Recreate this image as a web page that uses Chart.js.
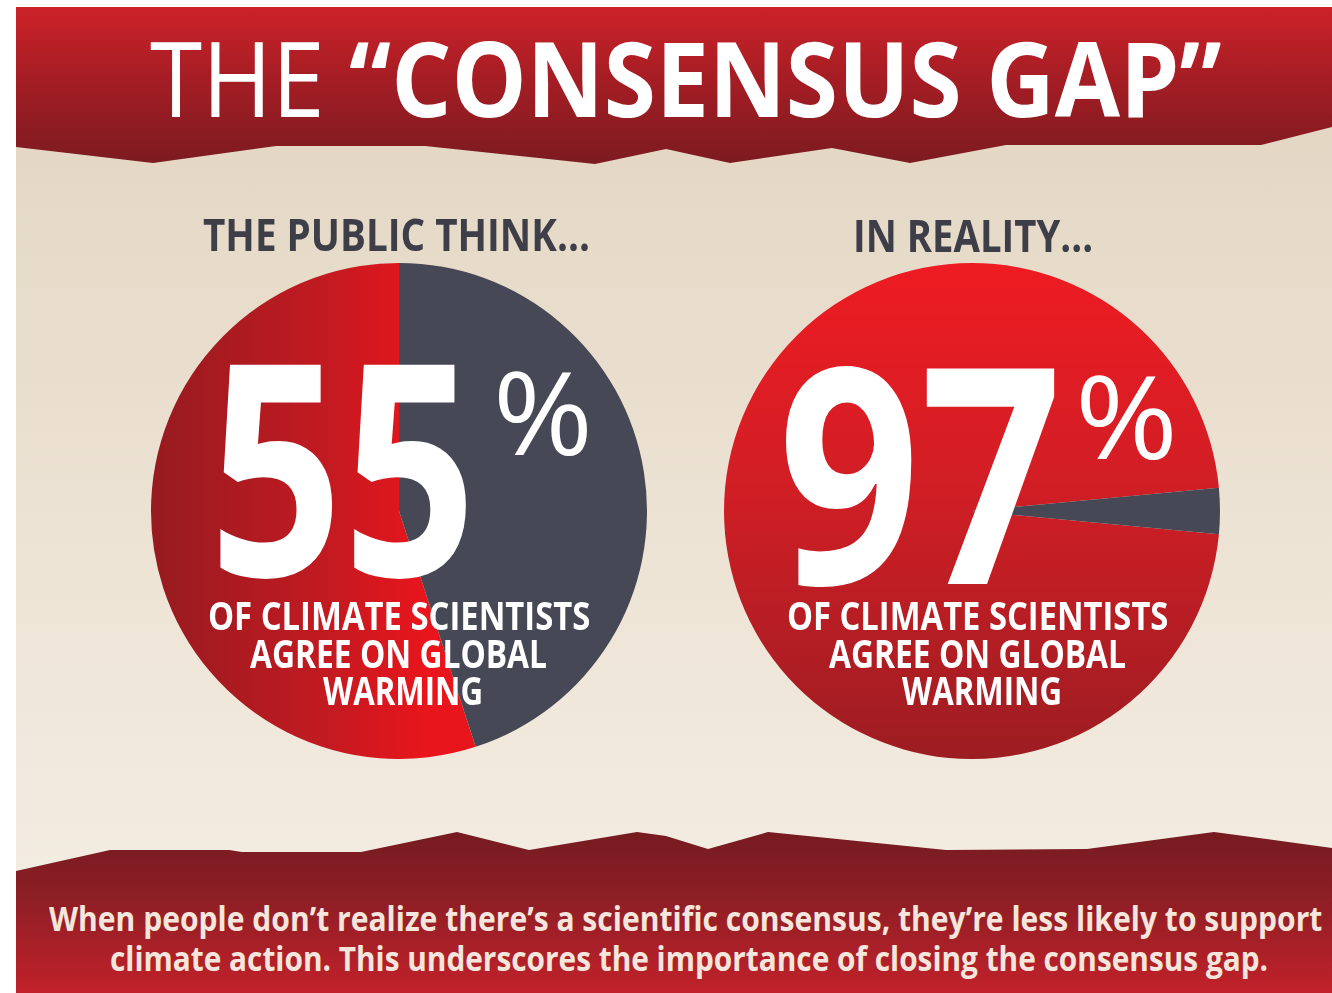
<!DOCTYPE html>
<html>
<head>
<meta charset="utf-8">
<script src="https://cdn.jsdelivr.net/npm/chart.js@4.4.1/dist/chart.umd.min.js"></script>
<style>
    body { margin: 0; width: 1332px; height: 993px; background: #fff; overflow: hidden; position: relative; font-family: "Open Sans", sans-serif; }
    #bg { position: absolute; left: 16px; top: 7px; width: 1316px; height: 986px; background: linear-gradient(#e1d3bf, #ece2d3 50%, #f5efe5); }
    #head { position: absolute; left: 16px; top: 7px; width: 1316px; height: 160px;
        background: linear-gradient(#cd2229, #a51d24 45%, #7a1b20);
        clip-path: polygon(0 0, 1316px 0, 1316px 120px, 1245px 138px, 990px 138px, 894px 156px, 816px 141px, 714px 156px, 650px 142px, 579px 157px, 409px 139px, 260px 139px, 137px 156px, 0 140px); }
    #foot { position: absolute; left: 16px; top: 820px; width: 1316px; height: 173px;
        background: linear-gradient(#741b21 5%, #8e1e25 45%, #c2212a);
        clip-path: polygon(0 51px, 94px 30px, 213px 30px, 226px 32px, 345px 32px, 441px 12px, 513px 30px, 621px 12px, 650px 16px, 692px 29px, 752px 12px, 930px 30px, 1071px 29px, 1198px 12px, 1316px 28px, 1316px 173px, 0 173px); }
    canvas { position: absolute; }
    #publicPie { left: 151px; top: 263px; }
    #realityPie { left: 724px; top: 263px; }
    .t { position: absolute; white-space: nowrap; line-height: 1; font-weight: 700; transform-origin: 0 0; }
    .w { color: #fff; }
    .g { color: #3d3e48; }
    .c { color: #f4e6dc; }
    .thin { font-weight: 400; }
</style>
</head>
<body>
<div id="bg"></div>
<div id="head"></div>
<div id="foot"></div>

<canvas id="publicPie" width="496" height="496"></canvas>
<canvas id="realityPie" width="496" height="496"></canvas>

<div class="t w" data-x="150" data-b="117" data-s="104" data-w="1072"><span class="thin">THE </span>“CONSENSUS GAP”</div>

<div class="t g" data-x="203" data-b="251" data-s="45" data-w="387">THE PUBLIC THINK...</div>
<div class="t g" data-x="853" data-b="252" data-s="45" data-w="240">IN REALITY...</div>

<div class="t w" data-x="209" data-b="577" data-s="296" data-w="268" id="publicNum"></div>
<div class="t w thin" data-x="493" data-b="455" data-s="116" data-w="100">%</div>
<div class="t w" data-x="778" data-b="584" data-s="302" data-w="284" id="realityNum"></div>
<div class="t w thin" data-x="1075" data-b="459" data-s="116" data-w="103">%</div>

<div class="t w" data-x="208" data-b="630" data-s="39" data-w="382">OF CLIMATE SCIENTISTS</div>
<div class="t w" data-x="250" data-b="668" data-s="39" data-w="297">AGREE ON GLOBAL</div>
<div class="t w" data-x="323" data-b="705" data-s="39" data-w="160">WARMING</div>
<div class="t w" data-x="787" data-b="630" data-s="39" data-w="381">OF CLIMATE SCIENTISTS</div>
<div class="t w" data-x="829" data-b="668" data-s="39" data-w="297">AGREE ON GLOBAL</div>
<div class="t w" data-x="902" data-b="705" data-s="39" data-w="160">WARMING</div>

<div class="t c" data-x="49" data-b="931" data-s="34" data-w="1273">When people don’t realize there’s a scientific consensus, they’re less likely to support</div>
<div class="t c" data-x="110" data-b="971" data-s="34" data-w="1158">climate action. This underscores the importance of closing the consensus gap.</div>

<script>
// share of climate scientists agreeing, as perceived vs actual
var labels = ['Agree', 'Do not agree'];
var publicThink = [55, 45];
var inReality = [97, 3];

document.getElementById('publicNum').textContent = publicThink[0];
document.getElementById('realityNum').textContent = inReality[0];

// place text by baseline and squeeze it to the width seen in the picture
document.querySelectorAll('.t').forEach(function (el) {
    var s = +el.dataset.s;
    el.style.fontSize = s + 'px';
    el.style.left = el.dataset.x + 'px';
    el.style.top = (el.dataset.b - 0.888 * s) + 'px';
    var k = el.dataset.w / el.offsetWidth;
    el.style.transform = 'scaleX(' + k + ')';
});

var grey = '#474855';

function redLeft(c) {
    if (c.dataIndex == 1) return grey;
    var a = c.chart.chartArea;
    if (!a) return '#d01b22';
    var g = c.chart.ctx.createLinearGradient(a.left, 0, a.right, 0);
    g.addColorStop(0, '#961b20');
    g.addColorStop(0.35, '#c21a21');
    g.addColorStop(0.55, '#e8151c');
    g.addColorStop(1, '#ee141b');
    return g;
}

function redDown(c) {
    if (c.dataIndex == 1) return grey;
    var a = c.chart.chartArea;
    if (!a) return '#d01b22';
    var g = c.chart.ctx.createLinearGradient(0, a.top, 0, a.bottom);
    g.addColorStop(0, '#ee1b22');
    g.addColorStop(0.45, '#d11e25');
    g.addColorStop(1, '#9c1d22');
    return g;
}

function pie(id, data, colour) {
    var disagree = data[1] * 3.6;
    new Chart(document.getElementById(id), {
        type: 'pie',
        data: {
            labels: labels,
            datasets: [{
                data: data,
                backgroundColor: colour,
                borderWidth: 0
            }]
        },
        options: {
            responsive: false,
            animation: false,
            events: [],
            // grey slice: from 12 o'clock on the left, centred on 3 o'clock on the right
            rotation: id == 'publicPie' ? disagree : 90 + disagree / 2,
            layout: { padding: 0 },
            plugins: {
                legend: { display: false },
                tooltip: { enabled: false }
            }
        }
    });
}

pie('publicPie', publicThink, redLeft);
pie('realityPie', inReality, redDown);
</script>
</body>
</html>
